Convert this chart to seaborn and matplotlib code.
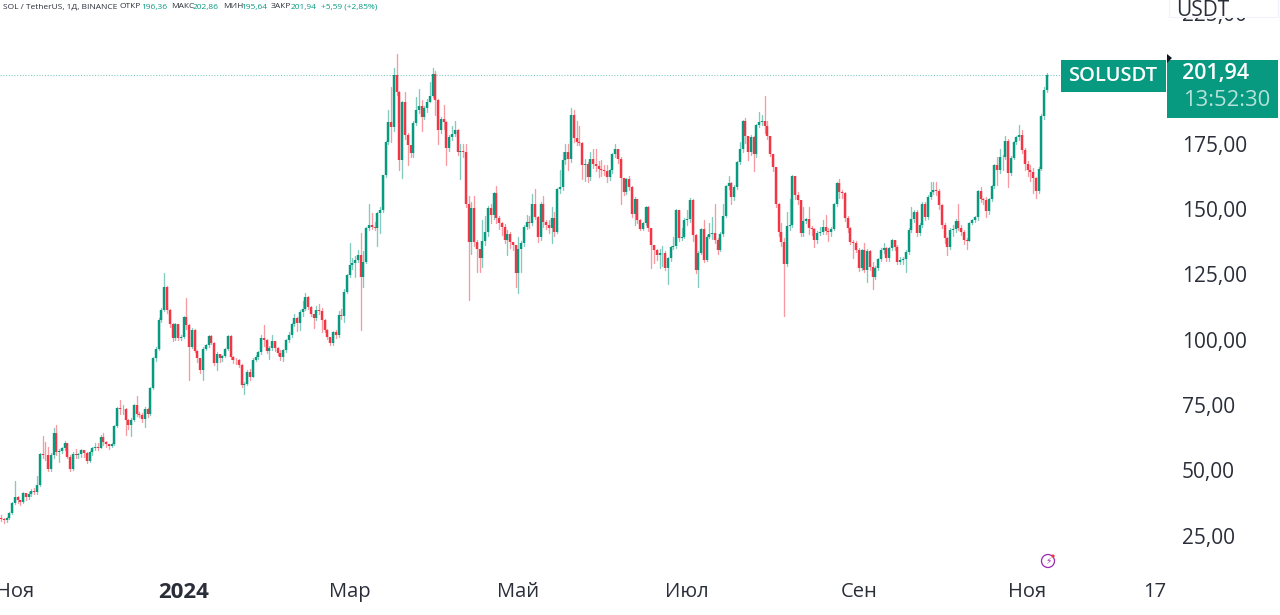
import pandas as pd
import seaborn as sns
import matplotlib.pyplot as plt
from matplotlib.patches import Rectangle, Circle, Polygon
from matplotlib.ticker import FuncFormatter
from matplotlib.transforms import Affine2D

START_DATE = '2023-10-27'
FIRST_OPEN = 32.6

# дневные свечи SOL/USDT
closes = [
    32.2, 31.8, 32.4, 34.4, 38.1, 40.6, 39.6, 38.6, 42.1, 40.7,
    41.7, 43.0, 42.6, 45.1, 57.0, 56.6, 56.5, 51.3, 56.6, 65.2,
    57.9, 58.3, 59.2, 61.1, 56.0, 51.3, 57.2, 56.6, 56.9, 58.5,
    57.6, 54.5, 57.9, 59.2, 59.7, 59.4, 63.6, 61.6, 60.8, 60.1,
    60.8, 67.6, 74.8, 74.1, 74.4, 70.0, 68.1, 70.2, 75.6, 72.3,
    71.9, 70.4, 74.1, 72.5, 82.1, 93.6, 97.4, 108.3, 112.1, 121.0,
    112.1, 106.6, 101.3, 106.6, 101.6, 101.9, 109.6, 106.3, 98.1, 104.6,
    96.6, 93.6, 89.1, 97.4, 98.7, 102.1, 99.6, 91.9, 95.2, 93.6,
    94.5, 97.1, 102.1, 94.2, 93.1, 92.9, 91.1, 83.4, 84.0, 88.6,
    86.6, 93.0, 94.1, 96.0, 101.6, 100.6, 96.6, 97.6, 100.4, 97.6,
    95.6, 94.2, 96.8, 100.6, 102.6, 106.6, 109.1, 107.1, 111.4, 112.6,
    117.2, 113.4, 110.8, 108.9, 112.1, 111.7, 108.3, 104.5, 101.9, 99.4,
    103.6, 102.6, 110.2, 109.8, 119.1, 125.5, 129.3, 130.0, 131.2, 133.2,
    124.9, 130.6, 143.6, 144.6, 144.1, 143.6, 149.1, 150.6, 163.8, 176.6,
    184.2, 182.0, 202.0, 195.6, 169.6, 191.6, 179.1, 175.2, 172.1, 183.8,
    188.6, 190.1, 186.1, 189.6, 191.8, 194.0, 202.4, 192.5, 181.2, 185.1,
    184.2, 174.0, 178.4, 179.6, 181.0, 172.7, 173.1, 172.6, 152.9, 138.3,
    151.0, 138.3, 135.6, 131.9, 138.6, 142.1, 151.0, 148.5, 156.8, 147.2,
    145.3, 144.0, 138.9, 141.2, 138.3, 137.1, 126.4, 135.6, 137.6, 144.0,
    145.9, 145.6, 152.9, 147.8, 140.2, 152.9, 145.9, 144.6, 143.4, 147.2,
    142.1, 158.6, 159.3, 169.5, 172.6, 169.8, 186.7, 177.8, 176.5, 176.1,
    167.6, 168.1, 163.1, 170.1, 168.2, 167.2, 166.3, 165.6, 165.2, 162.9,
    165.6, 171.8, 173.6, 170.1, 162.5, 157.4, 162.1, 159.3, 148.8, 154.8,
    146.6, 143.0, 145.5, 151.4, 143.4, 137.0, 135.3, 133.2, 133.8, 134.1,
    128.3, 131.9, 136.3, 136.6, 150.4, 139.6, 140.1, 146.6, 147.0, 154.2,
    140.8, 127.4, 134.0, 143.0, 131.2, 140.2, 141.4, 141.6, 138.9, 135.1,
    141.4, 148.1, 159.6, 160.6, 155.5, 159.3, 168.9, 173.6, 184.6, 178.6,
    172.7, 178.2, 171.8, 182.9, 184.2, 184.6, 182.6, 178.6, 171.8, 167.0,
    152.6, 142.1, 138.3, 129.7, 144.3, 144.6, 163.4, 156.1, 154.2, 141.5,
    146.3, 146.8, 143.4, 143.0, 138.9, 141.7, 142.1, 144.0, 142.5, 142.1,
    143.2, 152.9, 160.6, 157.4, 157.0, 147.2, 143.7, 138.3, 137.6, 135.1,
    128.1, 135.1, 127.4, 134.8, 128.6, 124.9, 128.4, 131.5, 135.3, 135.7,
    131.9, 135.7, 138.9, 136.3, 130.6, 131.2, 131.7, 134.4, 142.7, 146.8,
    149.7, 141.5, 144.6, 152.7, 147.8, 155.5, 157.4, 158.0, 157.6, 152.3,
    144.6, 139.6, 136.3, 142.7, 143.1, 146.3, 143.7, 142.1, 138.9, 138.4,
    145.5, 146.5, 147.6, 157.6, 154.8, 154.2, 150.1, 154.8, 159.6, 167.6,
    165.6, 170.6, 170.8, 176.9, 164.4, 170.4, 176.5, 178.2, 179.1, 173.3,
    168.2, 165.6, 165.1, 162.5, 157.6, 166.3, 186.4, 196.36, 201.94,
]
highs = [
    33.5, 32.4, 33, 35, 38.6, 46.8, 41, 39.5, 42.6, 42,
    42.4, 43.5, 44, 48.6, 57.6, 64, 61.6, 59.6, 57.4, 66.8,
    68.1, 58.8, 59.8, 62, 61.4, 56.6, 57.8, 59.1, 57.6, 59.1,
    58.6, 57.8, 58.2, 59.8, 61.1, 61.3, 64.2, 65.1, 62, 61,
    61.4, 68, 74.9, 77.6, 75.6, 74.6, 70.6, 70.8, 76, 79.2,
    73, 72.6, 75, 74.6, 82.6, 94, 98, 109, 113, 126.4,
    121.4, 112.6, 107, 107.2, 106.8, 102.6, 110, 116.9, 106.6, 105.4,
    104.8, 97, 93.8, 98, 99.2, 102.6, 102.4, 100, 96, 94.4,
    95, 97.6, 102.6, 102.6, 94.4, 93.6, 93.2, 91.4, 84.6, 89.2,
    89.4, 93.6, 95, 96.6, 102.4, 106.4, 101, 98.4, 102.6, 100.4,
    97.8, 96.8, 97.4, 101, 103.6, 107, 110.6, 109.4, 112, 115.6,
    118.6, 117.4, 113.6, 110.2, 113.6, 114.6, 112.8, 108.6, 105, 101.6,
    104, 104.6, 111.6, 112.6, 120, 125.8, 137.6, 132, 133, 135.1,
    141.6, 134.6, 144, 152.6, 149.1, 146, 149.8, 151.6, 164, 177,
    188.6, 197.6, 204.6, 210.1, 196, 192, 195.6, 180, 174, 184.4,
    193.6, 196.6, 192.6, 190.4, 193, 199.6, 204.6, 203.6, 193, 186,
    190.6, 184.6, 179, 182.6, 184.6, 181.6, 175.6, 175.6, 175.6, 155.6,
    153.6, 155.6, 139, 133, 146.6, 148, 152, 152.6, 157.4, 159.6,
    148, 146, 145, 142.6, 142, 138, 136.6, 140, 138.5, 144.6,
    148.6, 148, 156.6, 158.6, 148, 153.4, 155.6, 146.6, 146.6, 151.6,
    149.6, 159, 165.6, 172.6, 175.6, 175.6, 189.6, 188.6, 184.6, 182.6,
    176.5, 170, 168.7, 172.6, 173.6, 173.6, 169, 169.6, 167.6, 167.6,
    166.2, 172.4, 175.6, 173.8, 170.6, 162.5, 162.6, 163.6, 159.6, 155.4,
    154.8, 147, 146, 151.9, 152, 143.4, 137, 135.6, 135.6, 136.6,
    134.8, 132.4, 136.8, 140.1, 150.9, 150.4, 143.6, 147.2, 150.6, 155.1,
    154.5, 141.4, 134.6, 143.6, 146.6, 140.8, 145.6, 147.6, 152.6, 139.6,
    142, 152.6, 160, 163.6, 161.1, 160, 169, 176.6, 185, 185.6,
    178.8, 179, 178.8, 183.4, 188.1, 186.6, 194, 184.6, 178.9, 171.9,
    167, 153, 145.6, 139.6, 149.6, 154.6, 163.7, 163.6, 157.4, 154.4,
    151.6, 147.4, 151.6, 144.2, 143.6, 142.4, 144, 146.6, 148.6, 143.4,
    143.8, 153, 161, 162.1, 158, 157.4, 148, 144, 139, 138.4,
    135.9, 135.6, 137.6, 135.4, 135, 130.6, 129, 132, 135.8, 137.6,
    136.4, 136.2, 139.4, 139, 137, 132.6, 132.4, 135, 143.4, 151.6,
    150.4, 150.4, 145.4, 153.4, 153.4, 156, 161.1, 161, 161.1, 158.6,
    152.6, 145.4, 140, 143.4, 144.6, 146.8, 152.6, 144.6, 142.6, 139.6,
    146, 147, 148, 158.2, 159.3, 155, 155.4, 155.2, 160, 168,
    170.6, 173.6, 171.4, 178.6, 177.6, 171, 177, 178.8, 183.1, 181.1,
    174, 169, 167.6, 166.6, 163, 166.8, 187, 197.6, 202.86,
]
lows = [
    31.4, 30.8, 31, 32, 34, 37.8, 38.4, 37.6, 38.2, 39.6,
    39.8, 41, 41.6, 41.6, 44.6, 55.6, 54.6, 50.6, 50.4, 55.6,
    56.6, 54.1, 57.4, 58.6, 55.4, 50.6, 51, 55.4, 55.6, 56,
    56, 53.4, 53.8, 56.8, 58.4, 58.6, 59.2, 60.6, 59.6, 59.1,
    59.6, 60.6, 67.4, 72.4, 72.4, 64.2, 66.6, 63.9, 69.8, 71.6,
    71, 69.4, 67.2, 71, 72, 82, 92.6, 97, 107.6, 111.6,
    111, 105.8, 100.4, 100.6, 100.8, 100.8, 101.4, 105, 85.3, 97.6,
    96, 92.4, 88, 85.3, 96.8, 97.8, 99, 91.2, 89.3, 92.4,
    92.8, 94, 96.8, 93.4, 92, 91.6, 90.4, 82.8, 80.1, 83.4,
    85.4, 86.4, 92.6, 93.4, 95.4, 98.4, 95.8, 93.2, 96.8, 96.6,
    94.8, 93, 92.6, 96, 100, 102, 106, 104.2, 104.6, 110,
    112, 112.4, 109.8, 105.1, 108.4, 110.8, 103.6, 103.8, 101, 98.6,
    98.8, 101.6, 101.8, 108.6, 107.6, 118.6, 124.6, 127.8, 124.6, 130.6,
    104.6, 120.8, 130, 142.8, 143, 142.6, 136.6, 141.6, 149.8, 163,
    175.6, 176.6, 180.6, 194.6, 165.6, 162.6, 177.6, 167.6, 170.6, 170.8,
    183, 187.6, 180.6, 185.4, 188, 191.6, 193.6, 186.6, 175.6, 180,
    181.6, 167.6, 173, 177.4, 178.6, 171.6, 162.1, 170.6, 151.6, 115.9,
    133.6, 136.6, 126.6, 126.8, 128.6, 137, 140.6, 145.6, 147, 145.6,
    143, 141, 137.6, 133.1, 136, 135, 121.1, 118.6, 126.6, 136.6,
    143, 143.4, 144.6, 146.8, 138, 139, 144, 143, 141.6, 137.6,
    140.6, 141.6, 157, 158, 168, 165.6, 168.8, 176.4, 175.4, 175.2,
    162.1, 161.4, 161.1, 162, 166.4, 165.4, 163.1, 163.6, 164, 161,
    162, 164.6, 170.8, 168.6, 152.6, 156, 156.6, 158, 147.6, 144.6,
    145.6, 142.6, 142.6, 144.6, 142.4, 128.1, 130, 131.4, 128.1, 128.8,
    127.4, 122.1, 131, 135.6, 136, 138.6, 138.8, 139.6, 144.6, 146,
    138.6, 126.4, 121.1, 133.6, 130.6, 130.8, 139.6, 139.4, 137.8, 133.6,
    134.6, 140.6, 147.6, 158.6, 152.6, 154.2, 158.4, 168, 172.6, 176,
    169.6, 171.6, 165.3, 170.8, 182, 183, 180, 177.6, 171, 165.4,
    151.6, 140.6, 136.6, 109.8, 128.8, 142.6, 144, 154.6, 152.6, 140.6,
    140.6, 145.4, 141.4, 141, 136.3, 137.6, 140.8, 141.4, 141.4, 138.6,
    140.6, 142.6, 152, 155, 155, 146.4, 142, 137.4, 132.1, 134.4,
    127, 127.4, 126.6, 122.9, 127.6, 120.1, 124, 127.6, 131, 134,
    131, 131, 135, 135, 129.6, 129.6, 129.6, 126.6, 133.4, 142,
    145.8, 140.4, 141, 144, 146.6, 147, 154.6, 156.4, 156, 150.8,
    143.6, 137.6, 133.1, 135.6, 140.6, 142, 142.6, 140.8, 137.4, 135.6,
    138.4, 145, 146, 146.6, 153.6, 152.6, 147.6, 148.8, 153.8, 159,
    160, 164.6, 165.6, 170, 159.1, 163.8, 169.8, 175.6, 177.4, 172.4,
    165.6, 163.6, 161.6, 157, 155.1, 157, 165.8, 185.4, 195.64,
]

price_ticks = [25, 50, 75, 100, 125, 150, 175, 200, 225]
date_ticks = ['2023-11-01', '2024-01-01', '2024-03-01', '2024-05-01',
              '2024-07-01', '2024-09-01', '2024-11-01', '2024-12-17']
date_labels = ['Ноя', '2024', 'Мар', 'Май', 'Июл', 'Сен', 'Ноя', '17']

UP = '#089981'
DOWN = '#F23645'
INK = '#2A2E39'
W, H = 1280, 615


def px(x, y):
    # пиксели картинки -> доли фигуры
    return x / W, 1 - y / H


def build_frames():
    opens = [FIRST_OPEN] + closes[:-1]
    dates = pd.date_range(START_DATE, periods=len(closes))
    candles = pd.DataFrame({'date': dates, 'open': opens, 'high': highs,
                            'low': lows, 'close': closes})
    candles['side'] = ['up' if c >= o else 'down' for o, c in zip(opens, closes)]
    wicks = candles.melt(id_vars=['date', 'side'], value_vars=['high', 'low'],
                         value_name='price')
    bodies = candles.melt(id_vars=['date', 'side'], value_vars=['open', 'close'],
                          value_name='price')
    return wicks, bodies


def draw_candles(ax, wicks, bodies):
    palette = {'up': UP, 'down': DOWN}
    sns.lineplot(data=wicks, x='date', y='price', hue='side', units='date',
                 estimator=None, palette=palette, linewidth=0.95, alpha=0.5,
                 legend=False, ax=ax)
    sns.lineplot(data=bodies, x='date', y='price', hue='side', units='date',
                 estimator=None, palette=palette, linewidth=1.75,
                 solid_capstyle='butt', legend=False, ax=ax)


def style_axes(ax):
    start = pd.Timestamp(START_DATE)
    ax.set_xlim(start - pd.Timedelta(days=0.36), start + pd.Timedelta(days=421.4))
    ax.set_ylim(11.86, 230.8)
    ax.set_xlabel('')
    ax.set_ylabel('')
    ax.axhline(closes[-1], color=UP, alpha=0.5, linewidth=0.8, linestyle=(0, (1, 1.5)))

    ax.yaxis.tick_right()
    ax.set_yticks(price_ticks)
    ax.yaxis.set_major_formatter(FuncFormatter(lambda v, _: f'{v:.2f}'.replace('.', ',')))
    ax.tick_params(axis='y', length=0, pad=10.5, labelsize=15, labelcolor=INK)
    for tick in ax.yaxis.get_major_ticks():
        # подписи цены чуть выше своих уровней, как в оригинале
        tick.label2.set_transform(tick.label2.get_transform() + Affine2D().translate(0, 2))

    ax.set_xticks(pd.to_datetime(date_ticks))
    ax.set_xticklabels(date_labels)
    ax.tick_params(axis='x', length=0, pad=7, labelsize=14.5, labelcolor=INK)
    year_label = ax.get_xticklabels()[1]
    year_label.set_fontweight('bold')
    year_label.set_fontsize(16)
    sns.despine(ax=ax, left=True, bottom=True, right=True, top=True)


def add_header(fig):
    # строка OHLC сверху
    parts = [
        (3, 'SOL / TetherUS, 1Д, BINANCE', INK),
        (120, 'ОТКР', INK), (141, '196,36', UP),
        (171, 'МАКС', INK), (193, '202,86', UP),
        (223, 'МИН', INK), (241, '195,64', UP),
        (271, 'ЗАКР', INK), (291, '201,94', UP),
        (321, '+5,59 (+2,85%)', UP),
    ]
    for x, label, color in parts:
        fx, fy = px(x, 7)
        fig.text(fx, fy, label, color=color, fontsize=6, va='center', ha='left')


def add_box(fig, x0, y0, x1, y1, **kw):
    fx, fy = px(x0, y1)
    fig.add_artist(Rectangle((fx, fy), (x1 - x0) / W, (y1 - y0) / H,
                             transform=fig.transFigure, **kw))


def add_price_labels(fig):
    add_box(fig, 1061, 60, 1166, 92, facecolor=UP, edgecolor='none')
    add_box(fig, 1167, 60, 1278, 118, facecolor=UP, edgecolor='none')
    add_box(fig, 1169, -2, 1278, 17, facecolor='white', edgecolor='#F0F3FA', linewidth=0.8)

    fig.text(*px(1113, 76), 'SOLUSDT', color='white', fontsize=14.5, weight=600,
             ha='center', va='center', zorder=5)
    fig.text(*px(1182, 74), '201,94', color='white', fontsize=15.5, weight=600,
             ha='left', va='center', zorder=5)
    fig.text(*px(1183, 100), '13:52:30', color='#B5E3DA', fontsize=15.8,
             ha='left', va='center', zorder=5)
    fig.text(*px(1176, 10), 'USDT', color=INK, fontsize=15, ha='left', va='center', zorder=5)
    fig.add_artist(Polygon([px(1167, 54), px(1172, 58), px(1167, 63)], closed=True,
                           facecolor='#131722', edgecolor='none',
                           transform=fig.transFigure))


def add_bolt_icon(ax):
    # значок внизу, в пикселях
    trans = None
    ax.figure.add_artist(Circle((1048, H - 561), 6.5, facecolor='white', edgecolor='#9C27B0',
                                linewidth=0.9, transform=trans))
    ax.figure.add_artist(Circle((1053, H - 556), 1.6, facecolor=DOWN, edgecolor='none',
                                transform=trans))
    ax.figure.text(*px(1048, 561), '⚡', color='#9C27B0', fontsize=6.5,
                   ha='center', va='center', family='DejaVu Sans')


def main():
    sns.set_style('white')
    plt.rcParams['font.family'] = ['Open Sans', 'DejaVu Sans']

    fig = plt.figure(figsize=(W / 100, H / 100), dpi=100, facecolor='white')
    ax = fig.add_axes([0, 1 - 572 / H, 1167 / W, 572 / H])

    wicks, bodies = build_frames()
    draw_candles(ax, wicks, bodies)
    style_axes(ax)
    add_header(fig)
    add_price_labels(fig)
    add_bolt_icon(ax)

    fig.savefig('out.png', dpi=100)


if __name__ == '__main__':
    main()
